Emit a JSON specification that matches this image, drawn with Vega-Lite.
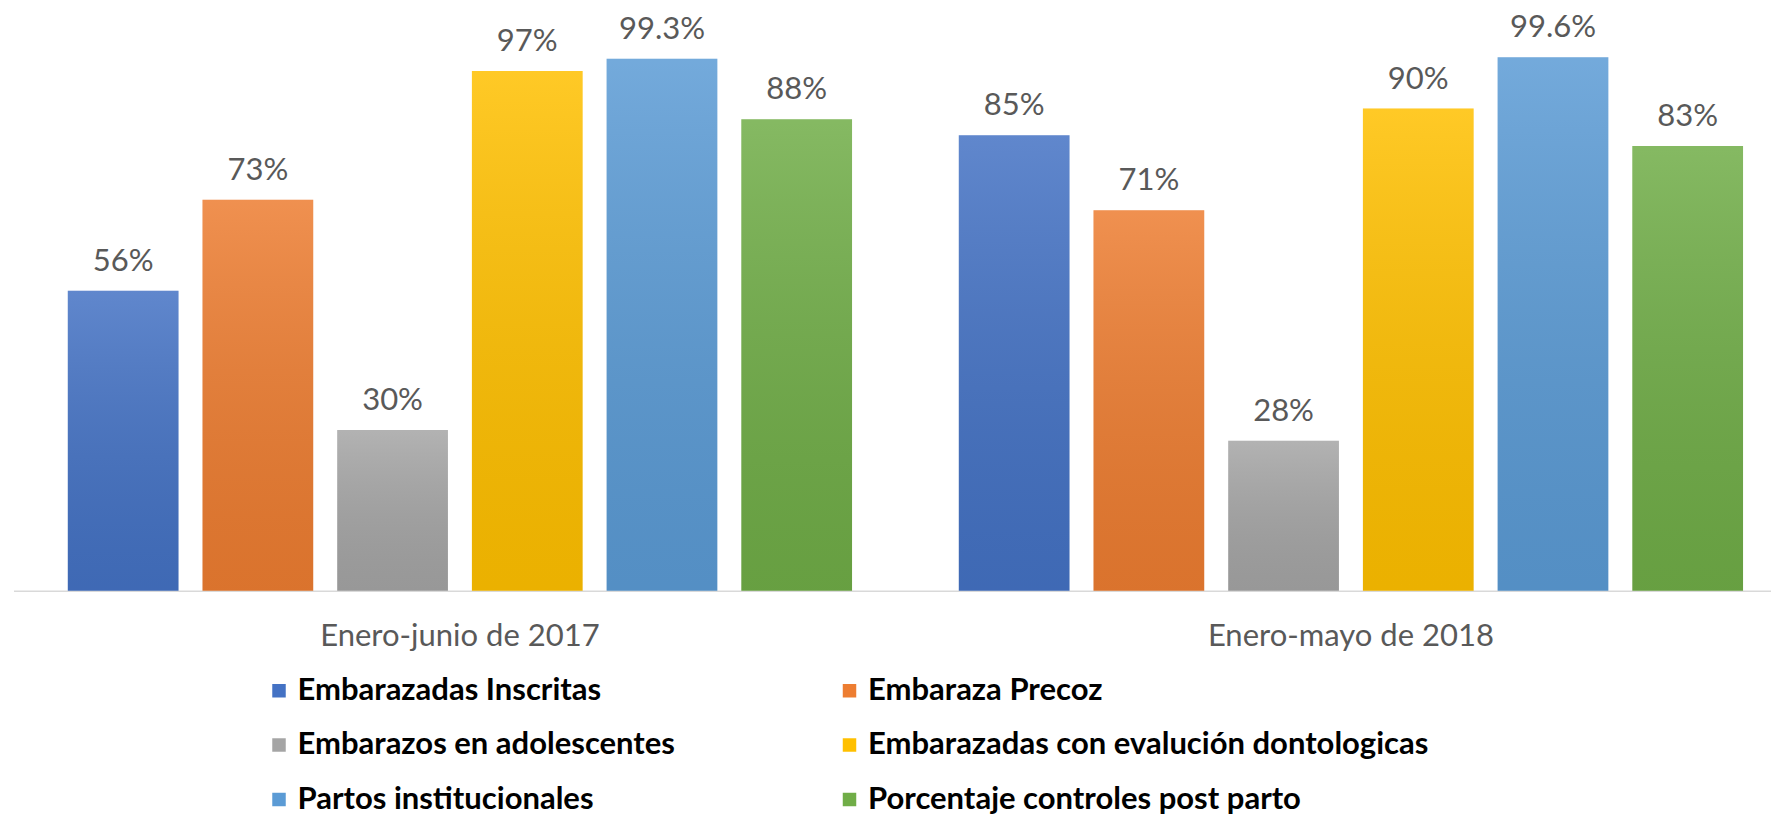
{
  "$schema": "https://vega.github.io/schema/vega-lite/v6.json",
  "width": 1757.5,
  "height": 535.7,
  "autosize": {"type": "none"},
  "padding": {"left": 13.5, "top": 55, "right": 0, "bottom": 226.3},
  "background": "white",
  "config": {"view": {"stroke": null}, "font": "Lato"},
  "data": {
    "values": [
      {"periodo": "Enero-junio de 2017", "serie": "Embarazadas Inscritas", "valor": 0.56},
      {"periodo": "Enero-junio de 2017", "serie": "Embaraza Precoz", "valor": 0.73},
      {"periodo": "Enero-junio de 2017", "serie": "Embarazos en adolescentes", "valor": 0.30},
      {"periodo": "Enero-junio de 2017", "serie": "Embarazadas con evalución dontologicas", "valor": 0.97},
      {"periodo": "Enero-junio de 2017", "serie": "Partos institucionales", "valor": 0.993},
      {"periodo": "Enero-junio de 2017", "serie": "Porcentaje controles post parto", "valor": 0.88},
      {"periodo": "Enero-mayo de 2018", "serie": "Embarazadas Inscritas", "valor": 0.85},
      {"periodo": "Enero-mayo de 2018", "serie": "Embaraza Precoz", "valor": 0.71},
      {"periodo": "Enero-mayo de 2018", "serie": "Embarazos en adolescentes", "valor": 0.28},
      {"periodo": "Enero-mayo de 2018", "serie": "Embarazadas con evalución dontologicas", "valor": 0.90},
      {"periodo": "Enero-mayo de 2018", "serie": "Partos institucionales", "valor": 0.996},
      {"periodo": "Enero-mayo de 2018", "serie": "Porcentaje controles post parto", "valor": 0.83}
    ]
  },
  "encoding": {
    "x": {
      "field": "periodo", "type": "nominal",
      "sort": ["Enero-junio de 2017", "Enero-mayo de 2018"],
      "scale": {"paddingInner": 0.0929, "paddingOuter": 0.0327, "align": 0.726},
      "axis": {
        "title": null, "labelAngle": 0, "ticks": false,
        "domainColor": "#d9d9d9", "domainWidth": 1.5,
        "labelFont": "Lato", "labelFontSize": 31, "labelColor": "#595959",
        "labelPadding": 31, "labelLimit": 1000
      }
    },
    "xOffset": {
      "field": "serie", "type": "nominal",
      "sort": ["Embarazadas Inscritas", "Embaraza Precoz", "Embarazos en adolescentes", "Embarazadas con evalución dontologicas", "Partos institucionales", "Porcentaje controles post parto"],
      "scale": {"paddingInner": 0.178, "paddingOuter": 0.089}
    },
    "y": {"field": "valor", "type": "quantitative", "scale": {"domain": [0, 1]}, "axis": null}
  },
  "layer": [
    {
      "mark": {"type": "bar"},
      "encoding": {
        "color": {
          "field": "serie", "type": "nominal",
          "sort": ["Embarazadas Inscritas", "Embaraza Precoz", "Embarazos en adolescentes", "Embarazadas con evalución dontologicas", "Partos institucionales", "Porcentaje controles post parto"],
          "scale": {"range": ["#4472C4", "#ED7D31", "#A5A5A5", "#FFC000", "#5B9BD5", "#70AD47"]},
          "legend": {
            "orient": "none", "legendX": 250, "legendY": 620,
            "direction": "horizontal", "columns": 2, "title": null,
            "symbolType": "square", "symbolSize": 182, "symbolStrokeWidth": 0,
            "labelFont": "Lato", "labelFontWeight": "bold", "labelFontSize": 31, "labelColor": "#000000",
            "labelOffset": 3, "columnPadding": 158.5, "rowPadding": 22.5, "labelLimit": 1000
          }
        }
      }
    },
    {
      "mark": {
        "type": "bar",
        "color": {
          "gradient": "linear", "x1": 0, "y1": 0, "x2": 0, "y2": 1,
          "stops": [
            {"offset": 0, "color": "rgba(255,255,255,0.15)"},
            {"offset": 1, "color": "rgba(0,0,0,0.08)"}
          ]
        }
      }
    },
    {
      "mark": {"type": "text", "baseline": "alphabetic", "dy": -20, "font": "Lato", "fontSize": 31, "color": "#595959"},
      "encoding": {"text": {"field": "valor", "type": "quantitative", "format": ".3~%"}}
    }
  ]
}
